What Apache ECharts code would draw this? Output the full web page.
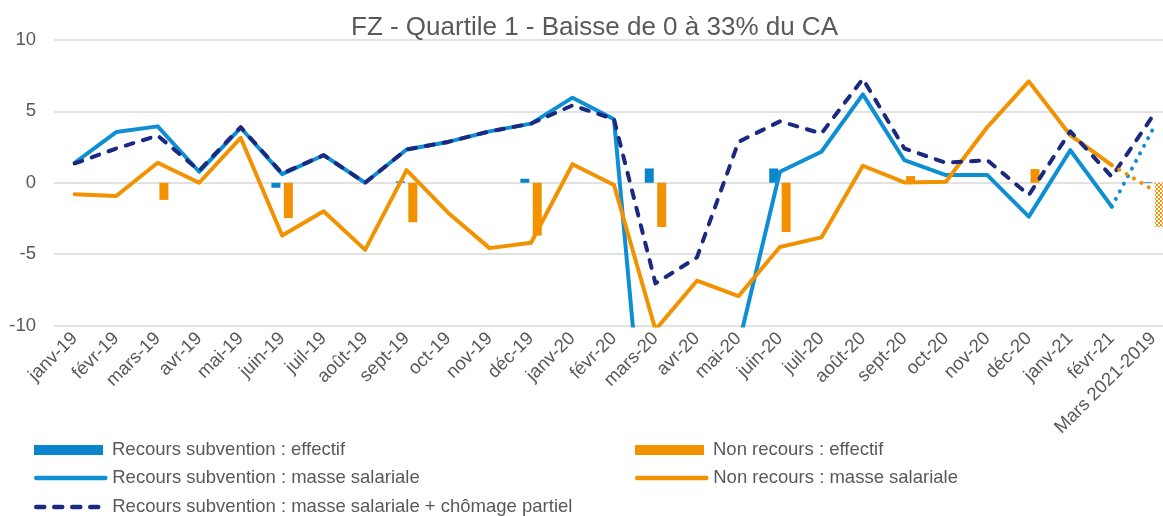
<!DOCTYPE html>
<html>
<head>
<meta charset="utf-8">
<script src="https://cdn.jsdelivr.net/npm/echarts@6/dist/echarts.min.js"></script>
<style>
  html, body { margin: 0; padding: 0; background: #ffffff; overflow: hidden; width: 1163px; height: 516px; }
  /* the plot runs a little past the right edge of the page */
  #chart { width: 1175px; height: 516px; }
</style>
</head>
<body>
<div id="chart"></div>
<script>
// Months (plus the March 2021 vs 2019 comparison point)
const categories = [
  'janv-19', 'févr-19', 'mars-19', 'avr-19', 'mai-19', 'juin-19', 'juil-19', 'août-19',
  'sept-19', 'oct-19', 'nov-19', 'déc-19', 'janv-20', 'févr-20', 'mars-20', 'avr-20',
  'mai-20', 'juin-20', 'juil-20', 'août-20', 'sept-20', 'oct-20', 'nov-20', 'déc-20',
  'janv-21', 'févr-21', 'Mars 2021-2019'
];

// Quarterly headcount changes (bars)
const recoursEffectif = [
  null, null, 0, null, null, -0.35, null, null, 0.1, null, null, 0.28, null, null, 1.0, null,
  null, 1.0, null, null, 0, null, null, 0, null, null, 0.05
];
const nonRecoursEffectif = [
  null, null, -1.2, null, null, -2.48, null, null, -2.77, null, null, -3.7, null, null, -3.1, null,
  null, -3.45, null, null, 0.47, null, null, 0.96, null, null, -3.1
];

// Monthly payroll changes (lines)
const recoursMasse = [
  1.4, 3.55, 3.95, 0.77, 3.85, 0.6, 1.93, 0, 2.33, 2.86, 3.6, 4.14, 5.96, 4.45, -27.5, -30,
  -11.4, 0.77, 2.17, 6.19, 1.58, 0.54, 0.54, -2.37, 2.28, -1.67, 3.8
];
const recoursMasseChomage = [
  1.35, 2.4, 3.3, 0.85, 3.9, 0.65, 1.93, 0, 2.33, 2.86, 3.6, 4.14, 5.42, 4.45, -7.05, -5.23,
  2.86, 4.3, 3.45, 7.28, 2.4, 1.4, 1.58, -0.86, 3.6, 0.42, 4.73
];
const nonRecoursMasse = [
  -0.8, -0.93, 1.4, 0, 3.15, -3.7, -2.0, -4.7, 0.88, -2.1, -4.58, -4.2, 1.3, -0.16, -10.3, -6.86,
  -7.95, -4.5, -3.83, 1.19, 0.02, 0.07, 3.9, 7.1, 3.33, 1.23, -0.51
];

const yTicks = { min: -10, max: 10, interval: 5 };

const BLUE_BAR = '#0a84cb';
const BLUE_LINE = '#0e8fd4';
const NAVY = '#1b2a80';
const ORANGE = '#f39200';
const TEXT = '#595959';
const FONT = '"Liberation Sans", Arial, sans-serif';

const last = categories.length - 1;
// The comparison point is drawn as a dotted continuation of the solid lines
const solidPart = arr => arr.map((v, i) => (i === last ? null : v));
const dottedPart = arr => arr.map((v, i) => (i >= last - 1 ? v : null));

// Checkerboard fill for the comparison bar
function checker(color) {
  const c = document.createElement('canvas');
  c.width = 4; c.height = 4;
  const g = c.getContext('2d');
  g.fillStyle = '#ffffff'; g.fillRect(0, 0, 4, 4);
  g.fillStyle = color;
  g.fillRect(0, 0, 2, 2); g.fillRect(2, 2, 2, 2);
  return { image: c, repeat: 'repeat' };
}

const nonRecoursBars = nonRecoursEffectif.map((v, i) =>
  i === last ? { value: v, itemStyle: { color: checker(ORANGE) } } : v);

const chart = echarts.init(document.getElementById('chart'), null, { renderer: 'canvas' });

// One legend box per entry so the two columns line up row by row.
// Line entries show only the stroke: the marker symbol is made transparent.
function legendEntry(name, left, top, isLine) {
  const entry = {
    left: left, top: top, padding: 0,
    itemWidth: 69, itemHeight: 10,
    textStyle: {
      color: TEXT, fontSize: 18.5, fontFamily: FONT, lineHeight: 20,
      padding: [0, 0, 0, isLine ? 2 : 4]
    },
    data: [isLine ? { name: name } : { name: name, icon: 'rect' }]
  };
  if (isLine) {
    entry.lineStyle = { width: 4.5, type: 'inherit', cap: 'round', join: 'round' };
    entry.itemStyle = { color: 'rgba(0,0,0,0)', borderColor: 'rgba(0,0,0,0)', borderWidth: 0 };
  }
  return entry;
}

chart.setOption({
  animation: false,
  backgroundColor: '#ffffff',
  title: {
    text: 'FZ - Quartile 1 - Baisse de 0 à 33% du CA',
    left: 346,
    top: 10,
    textStyle: { color: TEXT, fontSize: 26, fontWeight: 'normal', fontFamily: FONT }
  },
  grid: { left: 54, right: 1, top: 40, bottom: 190.5, containLabel: false },
  legend: [
    legendEntry('Recours subvention : effectif', 34, 440, false),
    legendEntry('Recours subvention : masse salariale', 34, 468, true),
    legendEntry('Recours subvention : masse salariale + chômage partiel', 34, 497, true),
    legendEntry('Non recours : effectif', 635, 440, false),
    legendEntry('Non recours : masse salariale', 635, 468, true)
  ],
  xAxis: {
    type: 'category',
    data: categories,
    boundaryGap: true,
    axisLine: { show: false },
    axisTick: { show: false },
    axisLabel: {
      rotate: 45, interval: 0, margin: 10,
      color: TEXT, fontSize: 18.5, fontFamily: FONT
    }
  },
  yAxis: {
    type: 'value',
    min: yTicks.min, max: yTicks.max, interval: yTicks.interval,
    axisLine: { show: false },
    axisTick: { show: false },
    axisLabel: { color: TEXT, fontSize: 18.5, fontFamily: FONT, margin: 18 },
    splitLine: { lineStyle: { color: '#d9d9d9', width: 1.5 } }
  },
  series: [
    {
      name: 'Recours subvention : effectif',
      type: 'bar', data: recoursEffectif,
      barWidth: 9, barGap: '38%',
      itemStyle: { color: BLUE_BAR }
    },
    {
      name: 'Non recours : effectif',
      type: 'bar', data: nonRecoursBars,
      barWidth: 9, barGap: '38%',
      itemStyle: { color: ORANGE }
    },
    {
      name: 'Recours subvention : masse salariale',
      type: 'line', data: solidPart(recoursMasse),
      symbol: 'none', clip: true,
      lineStyle: { color: BLUE_LINE, width: 4, cap: 'round', join: 'round' },
      itemStyle: { color: BLUE_LINE }
    },
    {
      name: 'Non recours : masse salariale',
      type: 'line', data: solidPart(nonRecoursMasse),
      symbol: 'none', clip: true,
      lineStyle: { color: ORANGE, width: 4, cap: 'round', join: 'round' },
      itemStyle: { color: ORANGE }
    },
    {
      name: 'Recours subvention : masse salariale + chômage partiel',
      type: 'line', data: recoursMasseChomage,
      symbol: 'none', clip: true,
      lineStyle: { color: NAVY, width: 4, type: [8, 10], cap: 'round', join: 'round' },
      itemStyle: { color: NAVY }
    },
    {
      name: 'recoursMasseComparaison',
      type: 'line', data: dottedPart(recoursMasse),
      symbol: 'none', clip: true,
      lineStyle: { color: BLUE_LINE, width: 4, type: [0.1, 8.5], cap: 'round' }
    },
    {
      name: 'nonRecoursMasseComparaison',
      type: 'line', data: dottedPart(nonRecoursMasse),
      symbol: 'none', clip: true,
      lineStyle: { color: ORANGE, width: 4, type: [0.1, 8.5], cap: 'round' }
    }
  ]
});
</script>
</body>
</html>
